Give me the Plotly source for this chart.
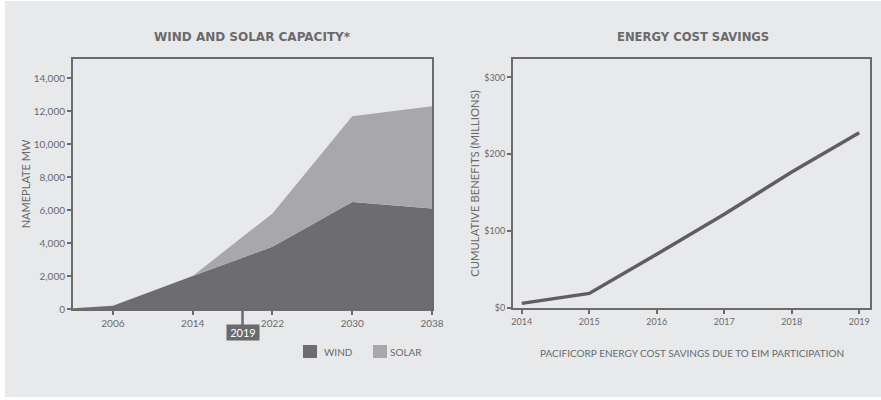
import plotly.graph_objects as go

# ---- data ----
cap_years = [2002, 2006, 2014, 2022, 2030, 2038]
wind_mw = [50, 200, 2000, 3780, 6500, 6100]
solar_mw = [0, 0, 0, 2020, 5200, 6200]
cap_ticks = [2006, 2014, 2022, 2030, 2038]
cap_yticks = [0, 2000, 4000, 6000, 8000, 10000, 12000, 14000]
marker_year = 2019

sav_years = [2014, 2015, 2016, 2017, 2018, 2019]
savings = [6, 19, 70, 122, 177, 228]
sav_yticks = [0, 100, 200, 300]
sav_ylabels = ["$0", "$100", "$200", "$300"]

BG = "#e8e9eb"
AX = "#6b6b6d"
WIND = "#6d6d70"
SOLAR = "#a8a8ab"
TXT = "#6a6a6c"
FONT = "Lato"
W, H = 881, 400

fig = go.Figure()
fig.add_trace(go.Scatter(x=cap_years, y=wind_mw, stackgroup="cap", mode="none",
                         fillcolor=WIND, name="WIND", xaxis="x", yaxis="y"))
fig.add_trace(go.Scatter(x=cap_years, y=solar_mw, stackgroup="cap", mode="none",
                         fillcolor=SOLAR, name="SOLAR", xaxis="x", yaxis="y"))
fig.add_trace(go.Scatter(x=sav_years, y=savings, mode="lines",
                         line=dict(color="#5f5f61", width=3.5), xaxis="x2", yaxis="y2",
                         showlegend=False))

axcommon = dict(showline=True, linecolor=AX, linewidth=2, mirror=True, ticks="outside",
                ticklen=4, tickwidth=2, tickcolor=AX, showgrid=False, zeroline=False,
                automargin=False)
left_font = dict(family=FONT, size=10, color=TXT)
right_font = dict(family=FONT, size=9, color=TXT)

fig.update_layout(
    width=W, height=H, margin=dict(l=0, r=0, t=0, b=0, pad=0, autoexpand=False),
    paper_bgcolor="white", plot_bgcolor="white", showlegend=False,
    font=dict(family=FONT, color=TXT),
    xaxis=dict(domain=[73 / W, 432 / W], range=[2002, 2038], tickvals=cap_ticks, anchor="y",
               tickfont=left_font, **axcommon),
    yaxis=dict(domain=[(H - 309) / H, (H - 59) / H], range=[0, 15170], tickvals=cap_yticks,
               tickformat=",", anchor="x", tickfont=left_font,
               title=dict(text="NAMEPLATE MW", font=dict(family=FONT, size=11, color=TXT), standoff=1),
               **axcommon),
    xaxis2=dict(domain=[513 / W, 870 / W], range=[2013.87, 2019.16], tickvals=sav_years, anchor="y2",
                tickfont=right_font, **axcommon),
    yaxis2=dict(domain=[(H - 308) / H, (H - 59) / H], range=[0, 324], tickvals=sav_yticks,
                ticktext=sav_ylabels, anchor="x2", tickfont=right_font,
                title=dict(text="CUMULATIVE BENEFITS (MILLIONS)", font=dict(family=FONT, size=11.3, color=TXT), standoff=2),
                **axcommon),
)

# gray panel background
fig.add_shape(type="rect", x0=5 / W, x1=1, y0=(H - 397) / H, y1=(H - 1) / H, xref="paper", yref="paper",
              fillcolor=BG, line=dict(width=0), layer="below")


def px_ann(text, x, y, size, color=TXT, xanchor="center", **kw):
    fig.add_annotation(text=text, x=x / W, y=(H - y) / H, xref="paper", yref="paper",
                       xanchor=xanchor, yanchor="middle", showarrow=False,
                       font=dict(family=kw.pop("family", FONT), size=size, color=color), **kw)


# titles
px_ann("<b>WIND AND SOLAR CAPACITY*</b>", 252, 37, 12, family="DejaVu Sans")
px_ann("<b>ENERGY COST SAVINGS</b>", 693, 37, 11.6, family="DejaVu Sans")
px_ann("PACIFICORP ENERGY COST SAVINGS DUE TO EIM PARTICIPATION", 692, 353, 10)

# 2019 marker
fig.add_shape(type="line", x0=marker_year, x1=marker_year, xref="x", y0=(H - 309) / H, y1=(H - 327) / H,
              yref="paper", line=dict(color=AX, width=2.5))
fig.add_annotation(text=str(marker_year), x=marker_year, xref="x", y=(H - 332.5) / H, yref="paper",
                   xanchor="center", yanchor="middle", showarrow=False,
                   bgcolor="#6a6a6c", font=dict(family=FONT, size=11, color="white"),
                   borderpad=1, width=30)

# legend
for name, col, x0, tx in [("WIND", WIND, 303, 322), ("SOLAR", SOLAR, 373, 388)]:
    fig.add_shape(type="rect", x0=x0 / W, x1=(x0 + 14) / W, y0=(H - 358) / H, y1=(H - 345) / H,
                  xref="paper", yref="paper", fillcolor=col, line=dict(width=0))
    px_ann(name, tx, 352, 10, xanchor="left")

fig.write_html("out.html")
